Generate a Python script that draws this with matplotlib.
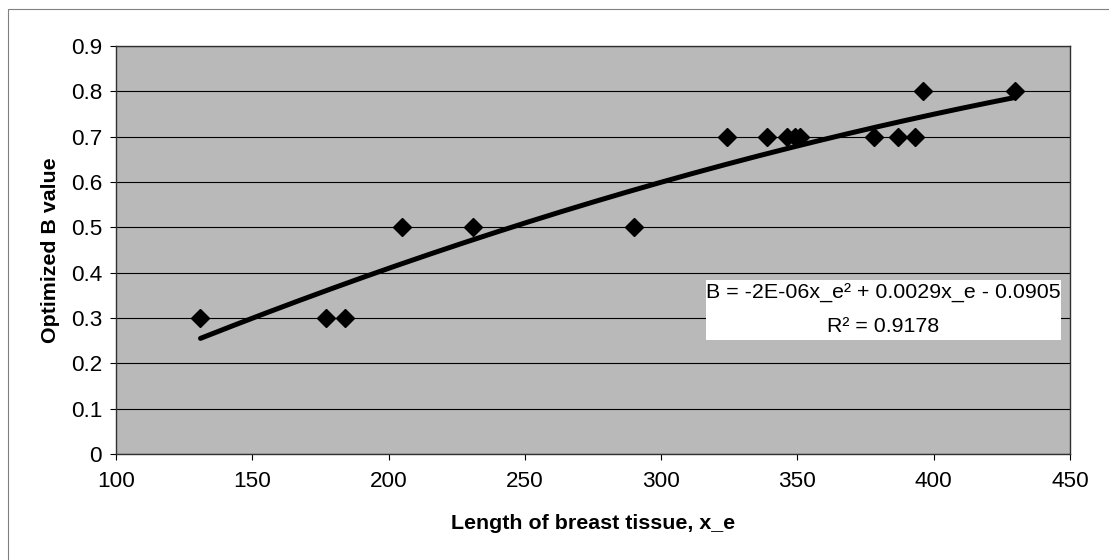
import matplotlib
matplotlib.use("Agg")
import matplotlib.pyplot as plt
import numpy as np
from matplotlib.patches import Rectangle

plt.rcParams["font.family"] = ["Liberation Sans", "DejaVu Sans"]

# Measured breast tissue lengths and optimized B values
length_xe = [131, 177, 184, 205, 231, 290, 324, 339, 346, 349, 351, 378, 387, 393, 396, 430]
b_value = [0.3, 0.3, 0.3, 0.5, 0.5, 0.5, 0.7, 0.7, 0.7, 0.7, 0.7, 0.7, 0.7, 0.7, 0.8, 0.8]

# Second-order trendline coefficients (a*x^2 + b*x + c) and fit quality
trend_coeffs = [-2e-06, 0.0029, -0.0905]
r_squared = 0.9178

x_ticks = [100, 150, 200, 250, 300, 350, 400, 450]
y_ticks = [0, 0.1, 0.2, 0.3, 0.4, 0.5, 0.6, 0.7, 0.8, 0.9]

fig = plt.figure(figsize=(11.09, 5.6), dpi=100)
fig.patch.set_facecolor("white")

# thin chart-area border
fig.add_artist(Rectangle((8 / 1109, -0.05), 1.2, (560 - 9) / 560 + 0.05,
                         transform=fig.transFigure, fill=False,
                         edgecolor="#808080", linewidth=0.8))

ax = fig.add_axes([116 / 1109, (560 - 454) / 560, (1070 - 116) / 1109, 408 / 560])
ax.set_facecolor("#b9b9b9")

ax.set_xlim(100, 450)
ax.set_ylim(0, 0.9)
ax.set_xticks(x_ticks)
ax.set_yticks(y_ticks)
ax.set_xticklabels([str(v) for v in x_ticks])
ax.set_yticklabels(["0" if v == 0 else f"{v:.1f}" for v in y_ticks])

ax.yaxis.grid(True, color="black", linewidth=0.8)
ax.set_axisbelow(True)

for side in ["left", "bottom", "top", "right"]:
    ax.spines[side].set_color("#303030")
    ax.spines[side].set_linewidth(1.0)

ax.tick_params(axis="both", direction="out", length=4, width=0.8,
               labelsize=16.2, colors="black")
ax.tick_params(axis="x", pad=8)
ax.tick_params(axis="y", pad=6)

# Polynomial trendline over the data range
xs = np.linspace(min(length_xe), max(length_xe), 200)
ys = np.polyval(trend_coeffs, xs)
ax.plot(xs, ys, color="black", linewidth=3.6, solid_capstyle="round", zorder=3)

ax.plot(length_xe, b_value, linestyle="none", marker="D", markersize=9,
        color="black", zorder=4)

ax.set_xlabel("Length of breast tissue, x_e", fontsize=15.4, fontweight="bold",
              labelpad=16)
ax.set_ylabel("Optimized B value", fontsize=15.4, fontweight="bold", labelpad=8)

# Trendline equation panel
ax.add_patch(Rectangle((316.5, 0.2515), 130.2, 0.1323, facecolor="white",
                       edgecolor="none", zorder=5))
ax.text(381.4, 0.3551, "B = -2E-06x_e\u00b2 + 0.0029x_e - 0.0905", fontsize=15.4,
        ha="center", va="center", zorder=6)
ax.text(381.4, 0.2802, f"R\u00b2 = {r_squared:.4f}", fontsize=15.4,
        ha="center", va="center", zorder=6)

fig.savefig("out.png", dpi=100, facecolor="white")
